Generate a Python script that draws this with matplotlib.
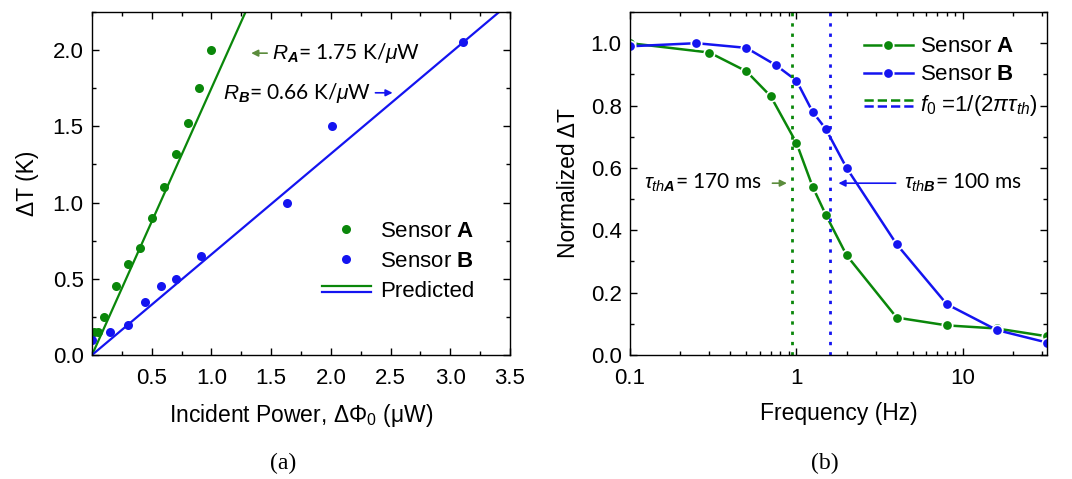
import numpy as np
import matplotlib
matplotlib.use("Agg")
import matplotlib.pyplot as plt
from matplotlib.lines import Line2D
from matplotlib.legend_handler import HandlerBase
from matplotlib.ticker import MultipleLocator, FixedLocator, FixedFormatter

plt.rcParams['font.family'] = ['Liberation Sans', 'DejaVu Sans']
plt.rcParams['mathtext.fontset'] = 'custom'
plt.rcParams['mathtext.rm'] = 'Liberation Sans'
plt.rcParams['mathtext.it'] = 'Liberation Sans:italic'
plt.rcParams['mathtext.bf'] = 'Liberation Sans:bold'
plt.rcParams['mathtext.bfit'] = 'Liberation Sans:italic:bold'

GREEN = '#0a870a'
BLUE = '#1414f0'
OLIVE = '#5b8c3c'

# (a) temperature rise vs incident power
powA = [0.02, 0.05, 0.10, 0.20, 0.30, 0.40, 0.50, 0.60, 0.70, 0.80, 0.90, 1.00]
dTA = [0.15, 0.15, 0.25, 0.45, 0.60, 0.70, 0.90, 1.10, 1.32, 1.52, 1.75, 2.00]
powB = [0.00, 0.15, 0.30, 0.44, 0.58, 0.70, 0.91, 1.63, 2.01, 3.11]
dTB = [0.10, 0.15, 0.20, 0.35, 0.45, 0.50, 0.65, 1.00, 1.50, 2.05]
R_A = 1.75
R_B = 0.66
pred_x = [0.0, 3.6]

# (b) frequency response
freqA = [0.1, 0.3, 0.5, 0.7, 1.0, 1.25, 1.5, 2.0, 4.0, 8.0, 16.0, 32.0]
normA = [1.00, 0.97, 0.91, 0.83, 0.68, 0.54, 0.45, 0.32, 0.12, 0.095, 0.085, 0.06]
freqB = [0.1, 0.25, 0.5, 0.75, 1.0, 1.25, 1.5, 2.0, 4.0, 8.0, 16.0, 32.0]
normB = [0.99, 1.00, 0.985, 0.93, 0.88, 0.78, 0.725, 0.60, 0.355, 0.163, 0.08, 0.04]
tauA = 0.17
tauB = 0.10


class HandlerStack(HandlerBase):
    # two legend lines stacked above each other
    def create_artists(self, legend, orig_handle, xdescent, ydescent,
                       width, height, fontsize, trans):
        out = []
        for i, h in enumerate(orig_handle):
            y = height / 2 + (0.2 - 0.4 * i) * height
            ln = Line2D([-xdescent, -xdescent + width], [y, y],
                        color=h.get_color(), lw=h.get_linewidth(),
                        linestyle=h.get_linestyle())
            ln.set_transform(trans)
            out.append(ln)
        return out


def style_axes(ax):
    ax.tick_params(which='both', direction='in', top=True, right=True,
                   labelsize=16, width=1)
    ax.tick_params(which='major', length=5)
    ax.tick_params(which='minor', length=3)
    ax.tick_params(axis='x', pad=9)
    ax.tick_params(axis='y', pad=6)
    for s in ax.spines.values():
        s.set_linewidth(1)


fig = plt.figure(figsize=(10.72, 4.79), dpi=100)
ax1 = fig.add_axes([92 / 1072, 1 - 355 / 479, 418 / 1072, 343 / 479])
ax2 = fig.add_axes([630 / 1072, 1 - 355 / 479, 417 / 1072, 343 / 479])

# ---- panel (a)
ax1.plot(powA, dTA, 'o', color=GREEN, ms=6.5, mec='none', label=r'Sensor $\mathbf{A}$')
ax1.plot(powB, dTB, 'o', color=BLUE, ms=6.5, mec='none', label=r'Sensor $\mathbf{B}$')
la, = ax1.plot(pred_x, [R_A * x for x in pred_x], color=GREEN, lw=1.6)
lb, = ax1.plot(pred_x, [R_B * x for x in pred_x], color=BLUE, lw=1.6)
ax1.set_xlim(0, 3.5)
ax1.set_ylim(0, 2.25)
ax1.xaxis.set_major_locator(FixedLocator([0.5, 1.0, 1.5, 2.0, 2.5, 3.0, 3.5]))
ax1.xaxis.set_minor_locator(MultipleLocator(0.25))
ax1.yaxis.set_major_locator(MultipleLocator(0.5))
ax1.yaxis.set_minor_locator(MultipleLocator(0.25))
ax1.yaxis.set_major_formatter(plt.FormatStrFormatter('%.1f'))
ax1.xaxis.set_major_formatter(plt.FormatStrFormatter('%.1f'))
style_axes(ax1)
ax1.set_xlabel(r'Incident Power, ΔΦ$_0$ (μW)', fontsize=16.5, labelpad=10)
ax1.set_ylabel('ΔT (K)', fontsize=16.5, labelpad=10)
h, l = ax1.get_legend_handles_labels()
pair = (la, lb)
h.append(pair)
l.append('Predicted')
ax1.legend(h, l, handler_map={pair: HandlerStack()}, loc='lower right',
           bbox_to_anchor=(0.935, 0.13), frameon=False, fontsize=16,
           handlelength=2.2, handletextpad=0.4, labelspacing=0.4,
           borderaxespad=0, markerscale=1.0)

ax1.text(1.51, 1.98, r'$R_{\mathbfit{A}}$= 1.75 K/$\mathit{\mu}$W', fontsize=15,
         ha='left', va='center', family=['Lato', 'DejaVu Sans'])
ax1.annotate('', xy=(1.31, 1.98), xytext=(1.49, 1.98),
             arrowprops=dict(arrowstyle='-|>', color=OLIVE, lw=1.2, mutation_scale=10))
ax1.text(2.34, 1.72, r'$R_{\mathbfit{B}}$= 0.66 K/$\mathit{\mu}$W', fontsize=15,
         ha='right', va='center', family=['Lato', 'DejaVu Sans'])
ax1.annotate('', xy=(2.54, 1.72), xytext=(2.35, 1.72),
             arrowprops=dict(arrowstyle='-|>', color=BLUE, lw=1.2, mutation_scale=10))

# ---- panel (b)
ax2.semilogx(freqA, normA, '-o', color=GREEN, lw=1.8, ms=7.5, mec='white', mew=1.2,
             label=r'Sensor $\mathbf{A}$')
ax2.semilogx(freqB, normB, '-o', color=BLUE, lw=1.8, ms=7.5, mec='white', mew=1.2,
             label=r'Sensor $\mathbf{B}$')
f0A = 1 / (2 * np.pi * tauA)
f0B = 1 / (2 * np.pi * tauB)
ax2.axvline(f0A, color=GREEN, ls=(0, (1.2, 2.5)), lw=2)
ax2.axvline(f0B, color=BLUE, ls=(0, (1.2, 2.5)), lw=2)
ax2.set_xlim(0.1, 32)
ax2.set_ylim(0, 1.1)
ax2.yaxis.set_major_locator(MultipleLocator(0.2))
ax2.yaxis.set_minor_locator(MultipleLocator(0.1))
ax2.yaxis.set_major_formatter(plt.FormatStrFormatter('%.1f'))
ax2.xaxis.set_major_locator(FixedLocator([0.1, 1, 10]))
ax2.xaxis.set_major_formatter(FixedFormatter(['0.1', '1', '10']))
style_axes(ax2)
ax2.set_xlabel('Frequency (Hz)', fontsize=16.5, labelpad=10)
ax2.set_ylabel('Normalized ΔT', fontsize=16.5, labelpad=8)

h2, l2 = ax2.get_legend_handles_labels()
dA = Line2D([], [], color=GREEN, ls=(0, (3, 1.5)), lw=1.8)
dB = Line2D([], [], color=BLUE, ls=(0, (3, 1.5)), lw=1.8)
pair2 = (dA, dB)
h2.append(pair2)
l2.append(r'$f_{0}$ =1/(2$\pi\tau_{th}$)')
ax2.legend(h2, l2, handler_map={pair2: HandlerStack()}, loc='upper right',
           bbox_to_anchor=(1.0, 0.955), frameon=False, fontsize=16,
           handlelength=2.2, handletextpad=0.35, labelspacing=0.32,
           borderaxespad=0)

ax2.text(0.62, 0.551, r'$\tau_{th\mathbfit{A}}$= 170 ms', fontsize=15,
         ha='right', va='center', family=['Lato', 'DejaVu Sans'])
ax2.annotate('', xy=(0.91, 0.551), xytext=(0.69, 0.551),
             arrowprops=dict(arrowstyle='-|>', color=OLIVE, lw=1.2, mutation_scale=10))
ax2.text(4.4, 0.551, r'$\tau_{th\mathbfit{B}}$= 100 ms', fontsize=15,
         ha='left', va='center', family=['Lato', 'DejaVu Sans'])
ax2.annotate('', xy=(1.72, 0.551), xytext=(4.1, 0.551),
             arrowprops=dict(arrowstyle='-|>', color=BLUE, lw=1.2, mutation_scale=10))

fig.text(283 / 1072, 1 - 463 / 479, '(a)', fontsize=17, ha='center', va='center',
         family='Liberation Serif')
fig.text(825 / 1072, 1 - 463 / 479, '(b)', fontsize=17, ha='center', va='center',
         family='Liberation Serif')

fig.savefig('out.png', dpi=100)
